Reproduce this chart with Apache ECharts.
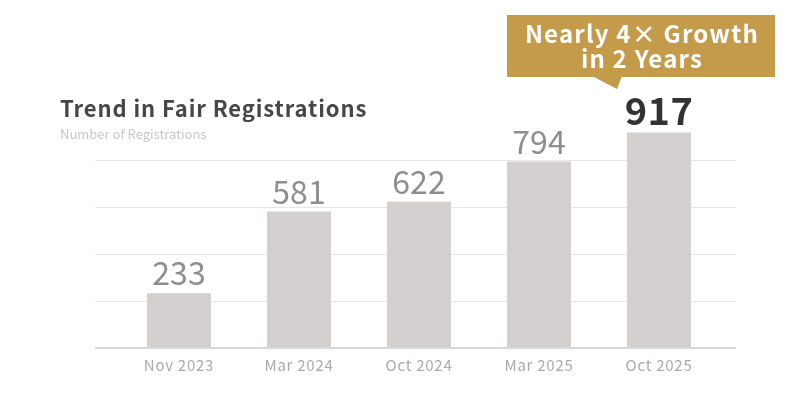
<!DOCTYPE html>
<html>
<head>
<meta charset="utf-8">
<script src="https://cdn.jsdelivr.net/npm/echarts@6/dist/echarts.min.js"></script>
<style>
  html, body { margin: 0; padding: 0; background: #fff; }
  #chart { width: 809px; height: 399px; }
</style>
</head>
<body>
<div id="chart"></div>
<script>
const categories = ['Nov 2023', 'Mar 2024', 'Oct 2024', 'Mar 2025', 'Oct 2025'];
const registrations = [233, 581, 622, 794, 917];
const yTicks = [0, 200, 400, 600, 800];
const calloutText = 'Nearly 4\u00d7 Growth\nin 2 Years';

const FONT = '"Noto Sans CJK JP", "Noto Sans", sans-serif';
const lastIdx = registrations.length - 1;

// letter spacing (px) per font size, the original text is slightly tracked
const trackingBySize = { 13: 0, 15: 0.75, 22: 0.9, 24: 1.2, 32: 0, 38: 0.4 };
const fontDesc = Object.getOwnPropertyDescriptor(CanvasRenderingContext2D.prototype, 'font');
if (fontDesc && 'letterSpacing' in CanvasRenderingContext2D.prototype) {
  Object.defineProperty(CanvasRenderingContext2D.prototype, 'font', {
    configurable: true,
    get() { return fontDesc.get.call(this); },
    set(v) {
      fontDesc.set.call(this, v);
      const m = /(\d+(?:\.\d+)?)px/.exec(v);
      const sp = m ? (trackingBySize[Math.round(parseFloat(m[1]))] || 0) : 0;
      this.letterSpacing = sp + 'px';
    }
  });
}

const chart = echarts.init(document.getElementById('chart'));

const barData = registrations.map((v, i) => {
  if (i !== lastIdx) return v;
  // highlight the latest value
  return {
    value: v,
    label: { fontSize: 38, fontWeight: 'bold', color: '#333333', distance: 3 }
  };
});

chart.setOption({
  animation: false,
  backgroundColor: '#ffffff',
  textStyle: { fontFamily: FONT },
  title: {
    text: 'Trend in Fair Registrations',
    subtext: 'Number of Registrations',
    left: 55,
    top: 92,
    itemGap: 8,
    textStyle: { fontFamily: FONT, fontSize: 22, fontWeight: 'bold', color: '#474747' },
    subtextStyle: { fontFamily: FONT, fontSize: 13, color: '#c6c6c6' }
  },
  grid: [
    // background grid for guide lines (wider than bar area)
    { left: 95, right: 73, top: 160, bottom: 51 },
    // bar area
    { left: 119, right: 90, top: 160, bottom: 51 }
  ],
  xAxis: [
    {
      gridIndex: 0, type: 'value', min: 0, max: 1,
      axisLine: { show: false }, axisTick: { show: false },
      axisLabel: { show: false }, splitLine: { show: false }
    },
    {
      gridIndex: 1, type: 'category', data: categories,
      axisLine: { show: false }, axisTick: { show: false },
      axisLabel: { fontFamily: FONT, fontSize: 15, color: '#aaaaaa', margin: 9 }
    }
  ],
  yAxis: [
    {
      gridIndex: 0, type: 'value', min: yTicks[0], max: yTicks[yTicks.length - 1], interval: 200,
      axisLine: { show: false }, axisTick: { show: false }, axisLabel: { show: false },
      splitLine: { lineStyle: { color: '#e6e6e6', width: 1 } }
    },
    {
      gridIndex: 1, type: 'value', min: yTicks[0], max: yTicks[yTicks.length - 1], interval: 200,
      axisLine: { show: false }, axisTick: { show: false }, axisLabel: { show: false },
      splitLine: { show: false }
    }
  ],
  series: [
    {
      type: 'line',
      xAxisIndex: 0, yAxisIndex: 0,
      data: [[0, 0], [1, 0]],
      symbol: 'none', silent: true,
      lineStyle: { color: '#d9d9d9', width: 2 }
    },
    {
      type: 'bar',
      xAxisIndex: 1, yAxisIndex: 1,
      data: barData,
      barWidth: 64,
      clip: false,
      itemStyle: { color: '#d3d0cf' },
      label: {
        show: true,
        position: 'top',
        distance: 4,
        fontFamily: FONT,
        fontSize: 32,
        color: '#8e8e8e'
      }
    }
  ],
  graphic: [
    {
      type: 'polygon',
      shape: { points: [[592, 76], [622, 76], [617, 89]] },
      style: { fill: '#c49a4b' }
    },
    {
      type: 'rect',
      shape: { x: 507, y: 15, width: 268, height: 62 },
      style: { fill: '#c49a4b' }
    },
    {
      type: 'text',
      x: 642, y: 46,
      style: {
        text: calloutText,
        fill: '#ffffff',
        font: 'bold 24px ' + FONT,
        align: 'center',
        verticalAlign: 'middle',
        lineHeight: 25
      }
    }
  ]
});
</script>
</body>
</html>
